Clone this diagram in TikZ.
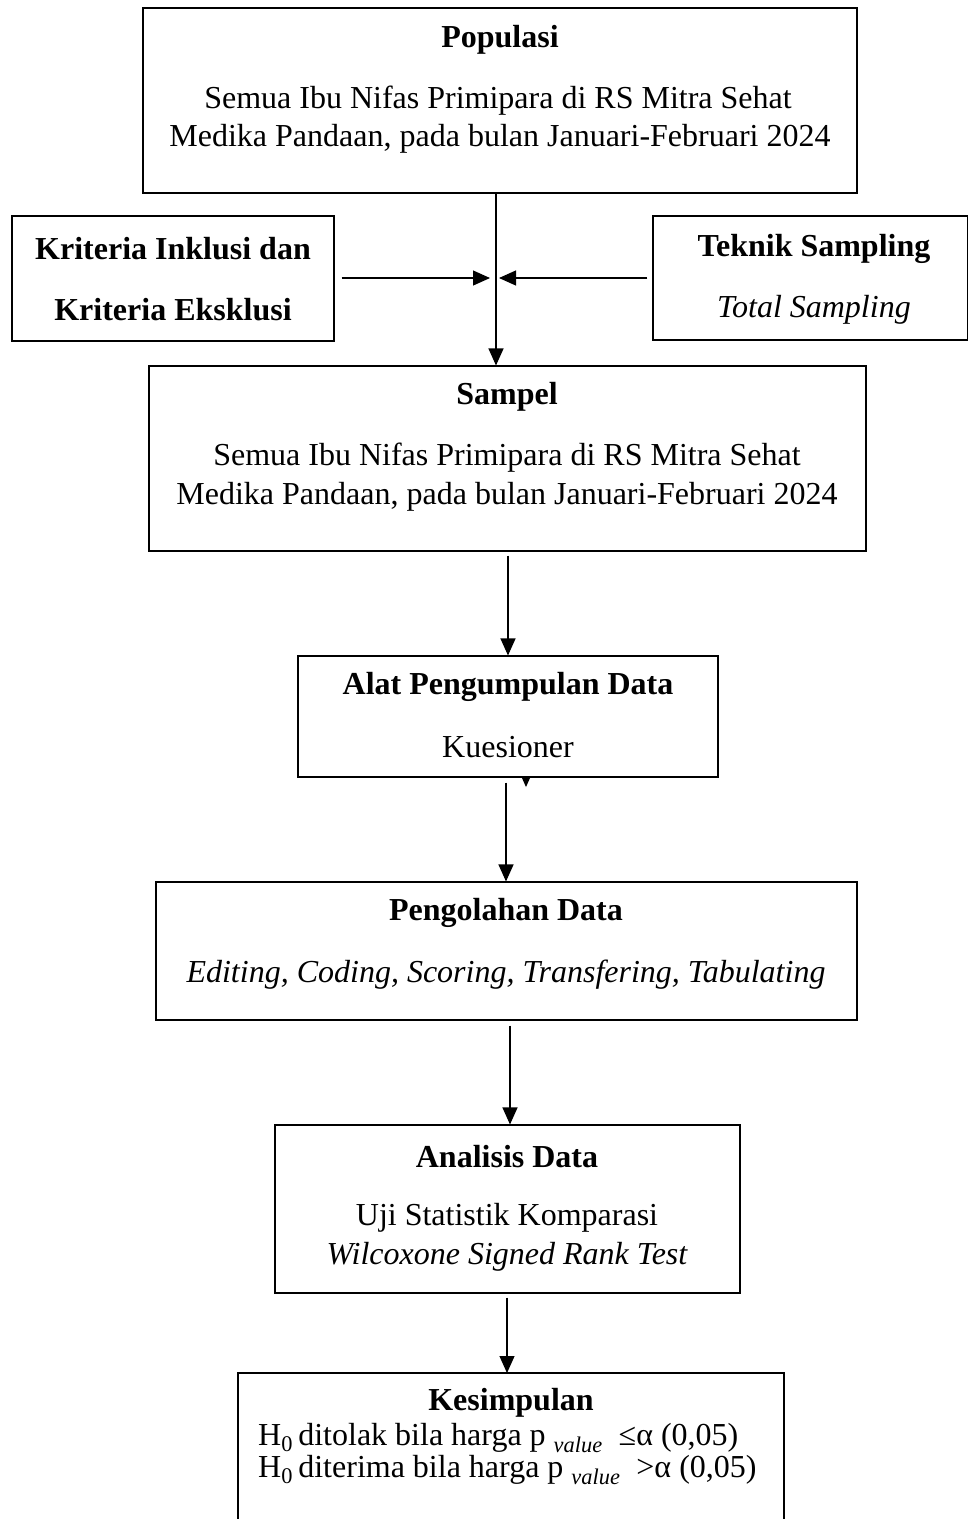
\documentclass[tikz,border=0pt]{standalone}
\usepackage{fontspec}
\setmainfont{Liberation Serif}
\usetikzlibrary{arrows.meta}
\begin{document}
\begin{tikzpicture}[x=1pt,y=-1pt,
 box/.style={draw, line width=1.1pt, inner sep=0pt},
 txt/.style={inner sep=0pt, font=\fontsize{32}{38}\selectfont},
 ttl/.style={inner sep=0pt, font=\fontsize{32}{38}\selectfont\bfseries},
 arr/.style={line width=1.1pt, -{Triangle[length=17pt,width=15pt]}}]
\useasboundingbox (0,0) rectangle (968,1519);
% boxes
\node[box, minimum width=714pt, minimum height=185pt] (pop) at (500,100.5) {};
\node[box, minimum width=322pt, minimum height=125pt] (krit) at (173,278.5) {};
\node[box, minimum width=315pt, minimum height=124pt] (tek) at (810.5,278) {};
\node[box, minimum width=717pt, minimum height=185pt] (sam) at (507.5,458.5) {};
\node[box, minimum width=420pt, minimum height=121pt] (alat) at (508,716.5) {};
\node[box, minimum width=701pt, minimum height=138pt] (peng) at (506.5,951) {};
\node[box, minimum width=465pt, minimum height=168pt] (anal) at (507.5,1209) {};
\coordinate (kesnw) at (238,1373);
\coordinate (kesne) at (784,1373);
\draw[line width=1.1pt] (238,1521) -- (kesnw) -- (kesne) -- (784,1521);
% texts
\node[ttl] (t1) at (500,40) {Populasi};
\node[txt] (t2) at (498,101) {Semua Ibu Nifas Primipara di RS Mitra Sehat};
\node[txt] (t3) at (500,139) {Medika Pandaan, pada bulan Januari-Februari 2024};
\node[ttl] (t4) at (173,249) {Kriteria Inklusi dan};
\node[ttl] (t5) at (173,310) {Kriteria Eksklusi};
\node[ttl] (t6) at (814,249) {Teknik Sampling};
\node[txt] (t7) at (814,310) {\itshape Total Sampling};
\node[ttl] (t8) at (507,397) {Sampel};
\node[txt] (t9) at (507,458) {Semua Ibu Nifas Primipara di RS Mitra Sehat};
\node[txt] (t10) at (507,497) {Medika Pandaan, pada bulan Januari-Februari 2024};
\node[ttl] (t11) at (508,687) {Alat Pengumpulan Data};
\node[txt] (t12) at (508,747) {Kuesioner};
\node[ttl] (t13) at (506,913) {Pengolahan Data};
\node[txt] (t14) at (506,975) {\itshape Editing, Coding, Scoring, Transfering, Tabulating};
\node[ttl] (t15) at (507,1157) {Analisis Data};
\node[txt] (t16) at (507,1218) {Uji Statistik Komparasi};
\node[txt] (t17) at (507,1257) {\itshape Wilcoxone Signed Rank Test};
\node[ttl] (t18) at (511,1403) {Kesimpulan};
\node[txt, anchor=west] (t19) at (258,1438) {H\textsubscript{0}\,ditolak bila harga p \textsubscript{\itshape value}\enspace≤α (0,05)};
\node[txt, anchor=west] (t20) at (258,1470) {H\textsubscript{0}\,diterima bila harga p \textsubscript{\itshape value}\enspace>α (0,05)};
% connectors
\coordinate (vx) at (496,0);
\draw[arr] (pop.south -| vx) -- (sam.north -| vx);
\coordinate (jl) at (490,278);
\coordinate (jr) at (499,278);
\draw[arr] ([xshift=7pt]krit.east |- jl) -- (jl);
\draw[arr] ([xshift=-5pt]tek.west |- jr) -- (jr);
\draw[arr] ([yshift=-4pt]sam.south -| alat.north) -- (alat.north);
\fill (522,778) -- (530,778) -- (526,787) -- cycle;
\coordinate (v3) at (506,0);
\draw[arr] ([yshift=-5pt]alat.south -| v3) -- (peng.north -| v3);
\coordinate (v4) at (510,0);
\draw[arr] ([yshift=-5pt]peng.south -| v4) -- (anal.north -| v4);
\coordinate (v5) at (507,0);
\draw[arr] ([yshift=-4pt]anal.south -| v5) -- (kesnw -| v5);
\end{tikzpicture}
\end{document}
